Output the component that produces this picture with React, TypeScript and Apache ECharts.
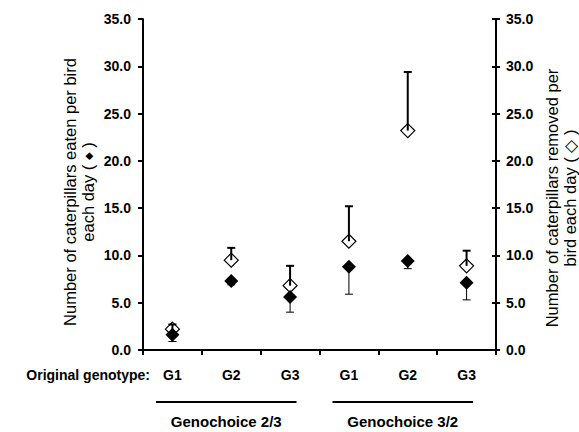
import React, { useEffect, useRef } from 'react';
import * as echarts from 'echarts';

const categories = ['G1', 'G2', 'G3', 'G1', 'G2', 'G3'];
const eaten = [1.6, 7.3, 5.6, 8.8, 9.4, 7.1];
const eatenLower = [0.9, 6.9, 4.0, 5.9, 8.6, 5.3];
const removed = [2.2, 9.5, 6.8, 11.5, 23.2, 8.9];
const removedUpper = [2.7, 10.8, 8.9, 15.2, 29.4, 10.5];
const groupLabels = ['Genochoice 2/3', 'Genochoice 3/2'];

const FONT = '"Liberation Sans", Arial, sans-serif';

function errRender(lw: number, half: number) {
  return (params: any, api: any) => {
    const x = api.value(0);
    const v = api.value(1);
    const e = api.value(2);
    const p1 = api.coord([x, v]);
    const p2 = api.coord([x, e]);
    const style = { stroke: '#000', lineWidth: lw };
    return {
      type: 'group',
      children: [
        { type: 'line', shape: { x1: p1[0], y1: p1[1], x2: p2[0], y2: p2[1] }, style },
        { type: 'line', shape: { x1: p2[0] - half, y1: p2[1], x2: p2[0] + half, y2: p2[1] }, style },
      ],
    };
  };
}

export default function App() {
  const ref = useRef<HTMLDivElement>(null);
  useEffect(() => {
    const chart = echarts.init(ref.current!, null, { renderer: 'svg' });
    const axisLabel = { fontFamily: FONT, fontSize: 14, fontWeight: 'bold', color: '#000' };
    const gridLeft = 143, gridRight = 496;
    const catW = (gridRight - gridLeft) / categories.length;
    const titleRich = {
      d: { fontFamily: 'DejaVu Sans', fontSize: 10, fill: '#000', color: '#000' },
    };
    const option: any = {
      animation: false,
      backgroundColor: '#fff',
      grid: { left: gridLeft, right: 579 - gridRight, top: 19, bottom: 432 - 350, containLabel: false },
      xAxis: {
        type: 'category',
        data: categories,
        boundaryGap: true,
        axisLine: { lineStyle: { color: '#000', width: 2 } },
        axisTick: { show: true, length: 5, lineStyle: { color: '#000', width: 2 } },
        axisLabel: { ...axisLabel, margin: 18 },
        splitLine: { show: false },
      },
      yAxis: [
        {
          type: 'value', min: 0, max: 35, interval: 5, position: 'left',
          axisLine: { show: true, lineStyle: { color: '#000', width: 2 } },
          axisTick: { show: true, length: 5, lineStyle: { color: '#000', width: 2 } },
          axisLabel: { ...axisLabel, margin: 12, formatter: (v: number) => v.toFixed(1) },
          splitLine: { show: false },
        },
        {
          type: 'value', min: 0, max: 35, interval: 5, position: 'right',
          axisLine: { show: true, lineStyle: { color: '#000', width: 2 } },
          axisTick: { show: true, length: 4, lineStyle: { color: '#000', width: 2 } },
          axisLabel: { ...axisLabel, margin: 10, formatter: (v: number) => v.toFixed(1) },
          splitLine: { show: false },
        },
        {
          type: 'value', min: 0, max: 35, interval: 5, position: 'right',
          axisLine: { show: false },
          axisTick: { show: true, inside: true, length: 4, lineStyle: { color: '#000', width: 2 } },
          axisLabel: { show: false },
          splitLine: { show: false },
        },
      ],
      series: [
        {
          type: 'scatter', name: 'removed', yAxisIndex: 1, z: 2,
          symbol: 'diamond', symbolSize: 14,
          itemStyle: { color: '#fff', borderColor: '#000', borderWidth: 1.2, opacity: 1 },
          data: removed,
        },
        {
          type: 'custom', name: 'removedErr', yAxisIndex: 1, z: 3,
          renderItem: errRender(2, 4),
          encode: { x: 0, y: [1, 2] },
          data: removed.map((v, i) => [i, v, removedUpper[i]]),
        },
        {
          type: 'custom', name: 'eatenErr', yAxisIndex: 0, z: 3,
          renderItem: errRender(1, 4),
          encode: { x: 0, y: [1, 2] },
          data: eaten.map((v, i) => [i, v, eatenLower[i]]),
        },
        {
          type: 'scatter', name: 'eaten', yAxisIndex: 0, z: 4,
          symbol: 'diamond', symbolSize: 14,
          itemStyle: { color: '#000', borderColor: '#000', borderWidth: 0, opacity: 1 },
          data: eaten,
        },
      ],
      graphic: [
        {
          type: 'text', x: 150, y: 375,
          style: { text: 'Original genotype:', font: `bold 14px ${FONT}`, fill: '#000', textAlign: 'right', textVerticalAlign: 'middle' },
        },
        ...groupLabels.flatMap((t, g) => {
          const x1 = gridLeft + catW * (3 * g) + 13;
          const x2 = gridLeft + catW * (3 * g + 3) - 23;
          return [
            { type: 'line', shape: { x1, y1: 402, x2, y2: 402 }, style: { stroke: '#000', lineWidth: 2 } },
            {
              type: 'text', x: (x1 + x2) / 2, y: 421,
              style: { text: t, font: `bold 15px ${FONT}`, fill: '#000', textAlign: 'center', textVerticalAlign: 'middle' },
            },
          ];
        }),
        {
          type: 'text', x: 79, y: 192, rotation: Math.PI / 2,
          style: {
            text: 'Number of caterpillars eaten per bird\neach day ( {d|\u25C6} )',
            rich: titleRich,
            font: `16.5px ${FONT}`, fill: '#000', textAlign: 'center', textVerticalAlign: 'middle', lineHeight: 18,
          },
        },
        {
          type: 'text', x: 561, y: 198, rotation: Math.PI / 2,
          style: {
            text: 'Number of caterpillars removed per\nbird each day ( \u25C7 )',
            font: `16.5px ${FONT}`, fill: '#000', textAlign: 'center', textVerticalAlign: 'middle', lineHeight: 18,
          },
        },
      ],
    };
    chart.setOption(option);
    return () => chart.dispose();
  }, []);
  return <div ref={ref} style={{ position: 'fixed', left: 0, top: 0, width: 579, height: 432 }} />;
}
